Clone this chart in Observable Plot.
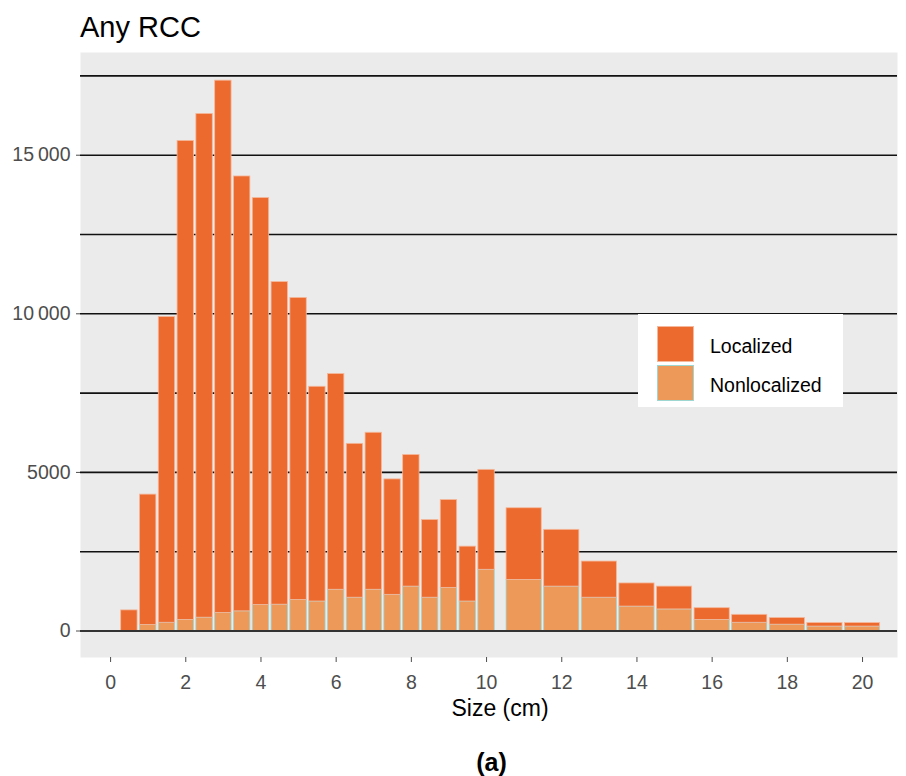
<!DOCTYPE html>
<html>
<head>
<meta charset="utf-8">
<script src="https://cdn.jsdelivr.net/npm/d3@7"></script>
<script src="https://cdn.jsdelivr.net/npm/@observablehq/plot@0.6"></script>
<style>
  body { margin: 0; background: #fff; font-family: "Liberation Sans", Arial, sans-serif; }
  #wrap { position: relative; width: 906px; height: 776px; overflow: hidden; background: #fff; }
  #chart { position: absolute; left: 0; top: 0; }
  .t { position: absolute; line-height: 1; white-space: nowrap; }
  #legend { position: absolute; left: 638px; top: 314px; width: 205px; height: 93px; background: #fff; }
  .sw { position: absolute; left: 19px; width: 37px; height: 36px; box-sizing: border-box; }
</style>
</head>
<body>
<div id="wrap">
  <div id="chart"></div>
  <div class="t" style="left:80px;top:12.5px;font-size:29px;color:#000;">Any RCC</div>
  <div class="t" style="left:500px;top:697px;font-size:23px;color:#000;transform:translateX(-50%);">Size (cm)</div>
  <div class="t" style="left:491.5px;top:750px;font-size:25px;font-weight:bold;color:#000;transform:translateX(-50%);">(a)</div>
  <div id="legend"></div>
</div>
<script>
// ---- data ----
const sizes = [0.5, 1, 1.5, 2, 2.5, 3, 3.5, 4, 4.5, 5, 5.5, 6, 6.5, 7, 7.5, 8, 8.5, 9, 9.5, 10,
               11, 12, 13, 14, 15, 16, 17, 18, 19, 20];
const localized = [650, 4110, 9640, 15100, 15880, 16780, 13710, 12830, 10170, 9520,
                   6770, 6800, 4850, 4950, 3640, 4150, 2450, 2770, 1730, 3150,
                   2260, 1790, 1140, 730, 720, 370, 250, 210, 110, 110];
const nonlocalized = [0, 190, 260, 350, 420, 570, 620, 820, 830, 980,
                      930, 1300, 1050, 1300, 1140, 1400, 1050, 1360, 930, 1930,
                      1610, 1400, 1050, 770, 680, 350, 260, 200, 140, 140];
const series = ["Localized", "Nonlocalized"];
const xTicks = [0, 2, 4, 6, 8, 10, 12, 14, 16, 18, 20];
const yTicks = [0, 5000, 10000, 15000];
const yGrid = [0, 2500, 5000, 7500, 10000, 12500, 15000, 17500];

// ---- styles ----
const fills = { Localized: "#EC6A2D", Nonlocalized: "#EC9959" };
const strokes = { Localized: "#F5B89C", Nonlocalized: "#9ED6D2" };

const rows = [];
sizes.forEach((s, i) => {
  const bw = s <= 10 ? 0.5 : 1;
  rows.push({ type: "Nonlocalized", x1: s - bw / 2, x2: s + bw / 2, y1: 0, y2: nonlocalized[i] });
  rows.push({ type: "Localized", x1: s - bw / 2, x2: s + bw / 2, y1: nonlocalized[i], y2: nonlocalized[i] + localized[i] });
});

const fmt = d => d >= 10000 ? d3.format(",")(d).replace(",", "\u2009") : String(d);

const barMark = (name) => Plot.rect(rows.filter(r => r.type === name && r.y2 > r.y1), {
  x1: "x1", x2: "x2", y1: "y1", y2: "y2",
  fill: fills[name], stroke: strokes[name], strokeWidth: 0.8,
  insetLeft: 1.2, insetRight: 1.2
});

const chart = Plot.plot({
  width: 906, height: 776,
  marginLeft: 80, marginRight: 9, marginTop: 52, marginBottom: 119,
  style: { fontFamily: '"Liberation Sans", Arial, sans-serif', fontSize: "19.5px", background: "transparent" },
  x: { domain: [-0.8, 20.93] },
  y: { domain: [-835, 18238] },
  marks: [
    Plot.frame({ fill: "#EBEBEB", stroke: null }),
    Plot.ruleY(yGrid, { stroke: "#111", strokeWidth: 1.6 }),
    barMark("Nonlocalized"),
    barMark("Localized"),
    Plot.ruleY([0], { stroke: "#333", strokeWidth: 1.8 }),
    Plot.axisX({ ticks: xTicks, tickSize: 5, tickPadding: 13, label: null, color: "#4d4d4d", tickFormat: d => String(d) }),
    Plot.axisY({ ticks: yTicks, tickSize: 4, tickPadding: 6, label: null, color: "#4d4d4d", tickFormat: fmt })
  ]
});
document.getElementById("chart").appendChild(chart);

// ---- legend ----
const legend = document.getElementById("legend");
series.forEach((name, i) => {
  const sw = document.createElement("div");
  sw.className = "sw";
  sw.style.top = (12 + i * 39) + "px";
  sw.style.background = fills[name];
  sw.style.border = "1px solid " + strokes[name];
  legend.appendChild(sw);
  const lab = document.createElement("div");
  lab.className = "t";
  lab.style.left = "72px";
  lab.style.top = (22.5 + i * 39) + "px";
  lab.style.fontSize = "19.5px";
  lab.style.color = "#000";
  lab.textContent = name;
  legend.appendChild(lab);
});
</script>
</body>
</html>
